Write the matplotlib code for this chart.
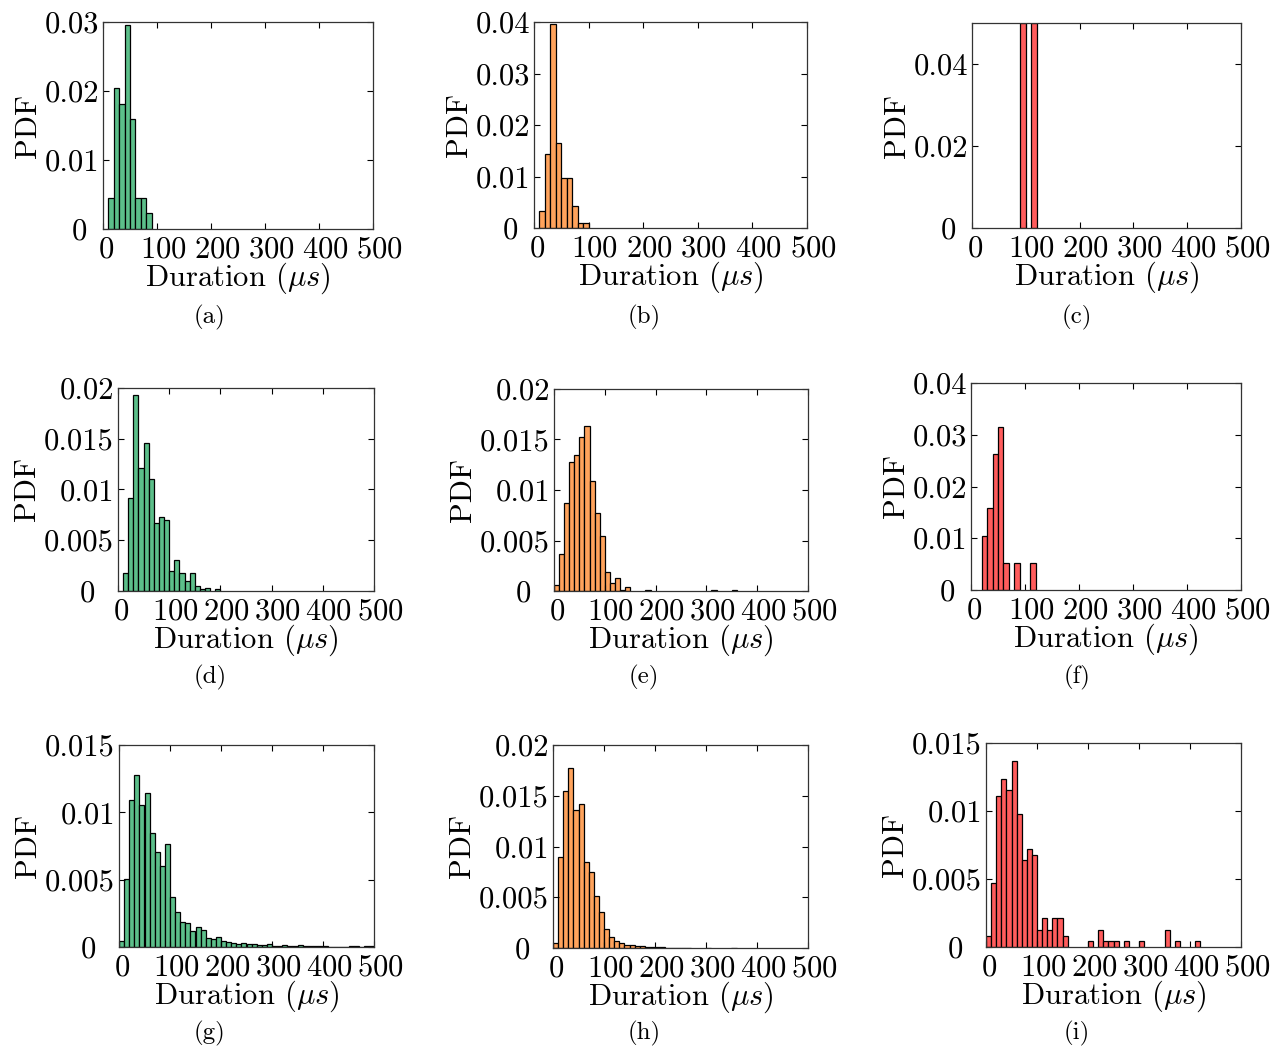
import numpy as np
import matplotlib
matplotlib.use("Agg")
import matplotlib.pyplot as plt
from matplotlib.ticker import FuncFormatter
from matplotlib.transforms import ScaledTranslation

plt.rcParams["font.family"] = "cmr10"
plt.rcParams["mathtext.fontset"] = "cm"
plt.rcParams["axes.formatter.use_mathtext"] = True
plt.rcParams["axes.unicode_minus"] = False

# bin width in microseconds, bins start at 0
bin_width = 10

# PDF per 10 us bin, first entry is the 0-10 us bin
pdf_a = [0, 0.00455, 0.02045, 0.01818, 0.02955, 0.0159, 0.00455, 0.00455, 0.00227]
pdf_b = [0, 0.0033, 0.0143, 0.0397, 0.0165, 0.0098, 0.0098, 0.0043, 0.001, 0.001]
pdf_c = [0, 0, 0, 0, 0, 0, 0, 0, 0, 0.05, 0, 0.05]
pdf_d = [0, 0.0018, 0.0092, 0.0193, 0.0121, 0.0146, 0.011, 0.0067, 0.0073, 0.007,
         0.002, 0.0031, 0.0018, 0.001, 0.0018, 0.0005, 0.0002, 0.0003, 0, 0.0002]
pdf_e = [0.0006, 0.0037, 0.0087, 0.0128, 0.0135, 0.0152, 0.0163, 0.0109, 0.0077, 0.0054,
         0.0019, 0.0008, 0.0013, 0.0001, 0.0004, 0, 0, 0, 0.0001, 0,
         0, 0, 0, 0, 0, 0, 0, 0, 0, 0,
         0, 0.0001, 0, 0, 0, 0.0001]
pdf_f = [0, 0, 0.01053, 0.01579, 0.02632, 0.03158, 0.00526, 0, 0.00526, 0, 0, 0.00526]
pdf_g = [0.00044, 0.00504, 0.01094, 0.01279, 0.01052, 0.01141, 0.00844, 0.00709, 0.00598, 0.00763,
         0.00375, 0.00259, 0.00188, 0.0018, 0.00119, 0.00148, 0.00123, 0.00067, 0.00062, 0.00072,
         0.00044, 0.0004, 0.0003, 0.0002, 0.0003, 0.0002, 0.0002, 0.00015, 0.00015, 0.00025,
         0.0001, 0.0001, 0.00012, 0.0001, 0.00007, 0.00015, 0.00005, 0.0001, 0.00005, 0.00005,
         0.0001, 0.00003, 0.00003, 0.00003, 0.00003, 0.0001, 0.00007, 0.00003, 0.00007, 0.0001]
pdf_h = [0.00046, 0.00896, 0.0155, 0.01771, 0.01355, 0.01414, 0.00843, 0.00753, 0.00509, 0.00357,
         0.00192, 0.00109, 0.00066, 0.00053, 0.00033, 0.00033, 0.00023, 0.00023, 0.00013, 0.0001,
         0.00007, 0.00007, 0.00003, 0.00003, 0.00003, 0.00002, 0.00002, 0, 0, 0,
         0.00002, 0, 0, 0, 0, 0.00002]
pdf_i = [0.00084, 0.00467, 0.0111, 0.01236, 0.01152, 0.01364, 0.00979, 0.00638, 0.00724, 0.0068,
         0.00126, 0.0021, 0.00126, 0.0021, 0.0021, 0.00084, 0, 0, 0, 0,
         0.00042, 0, 0.00126, 0.00042, 0.00042, 0.00042, 0, 0.00042, 0, 0,
         0.00042, 0, 0, 0, 0, 0.00126, 0, 0.00042, 0, 0,
         0, 0.00042]

panel_data = [pdf_a, pdf_b, pdf_c, pdf_d, pdf_e, pdf_f, pdf_g, pdf_h, pdf_i]
panel_labels = ["(a)", "(b)", "(c)", "(d)", "(e)", "(f)", "(g)", "(h)", "(i)"]
y_max = [0.03, 0.04, 0.05, 0.02, 0.02, 0.04, 0.015, 0.02, 0.015]
y_step = [0.01, 0.01, 0.02, 0.005, 0.005, 0.01, 0.005, 0.005, 0.005]
x_ticks = [0, 100, 200, 300, 400, 500]

green = "#5cbf8a"
orange = "#ffa35c"
red = "#ff5c5c"
colors = [green, orange, red] * 3

W, H = 1283, 1051
# axes boxes in pixels: left, top, right, bottom
boxes = [
    (103, 22, 373, 229), (534, 22, 807, 228), (972, 23, 1241, 228),
    (118, 388, 374, 591), (554, 389, 808, 591), (971, 383, 1241, 590),
    (119, 745, 374, 947), (553, 745, 808, 948), (986, 743, 1241, 947),
]
caption_xy = [(210, 317), (644, 317), (1077, 317),
              (210, 677), (644, 677), (1077, 677),
              (210, 1033), (644, 1033), (1077, 1033)]

fig = plt.figure(figsize=(W / 100, H / 100), dpi=100)


def shift(label, dx_px):
    label.set_transform(label.get_transform()
                        + ScaledTranslation(dx_px / 100, 0, fig.dpi_scale_trans))


for k in range(9):
    l, t, r, b = boxes[k]
    ax = fig.add_axes([l / W, 1 - b / H, (r - l) / W, (b - t) / H])
    vals = np.array(panel_data[k])
    lefts = np.arange(len(vals)) * bin_width
    keep = vals > 0
    ax.bar(lefts[keep], vals[keep], width=bin_width, align="edge",
           color=colors[k], edgecolor="black", linewidth=0.9)
    ax.set_xlim(0, 500)
    ax.set_ylim(0, y_max[k])
    ax.set_xticks(x_ticks)
    ax.set_yticks(np.arange(0, y_max[k] + 1e-9, y_step[k]))
    ax.yaxis.set_major_formatter(FuncFormatter(lambda v, p: "%g" % round(v, 4)))
    ax.tick_params(direction="in", top=True, right=True, length=4, width=0.8,
                   labelsize=22)
    ax.tick_params(axis="x", pad=5)
    ax.tick_params(axis="y", pad=3)
    for s in ax.spines.values():
        s.set_linewidth(0.9)
        s.set_color("#333333")
    ax.set_xlabel(r"Duration ($\mu s$)", fontsize=22, labelpad=-2)
    ax.set_ylabel("PDF", fontsize=22, labelpad=2)

    # label placement as in the original
    for i, lab in enumerate(ax.get_xticklabels()):
        shift(lab, 3 if i == 0 else 6)
    shift(ax.get_yticklabels()[0], -12 if y_step[k] >= 0.01 else -19)

    cx, cy = caption_xy[k]
    fig.text(cx / W, 1 - cy / H, panel_labels[k], fontsize=18,
             ha="center", va="center")

fig.savefig("out.png", dpi=100)
